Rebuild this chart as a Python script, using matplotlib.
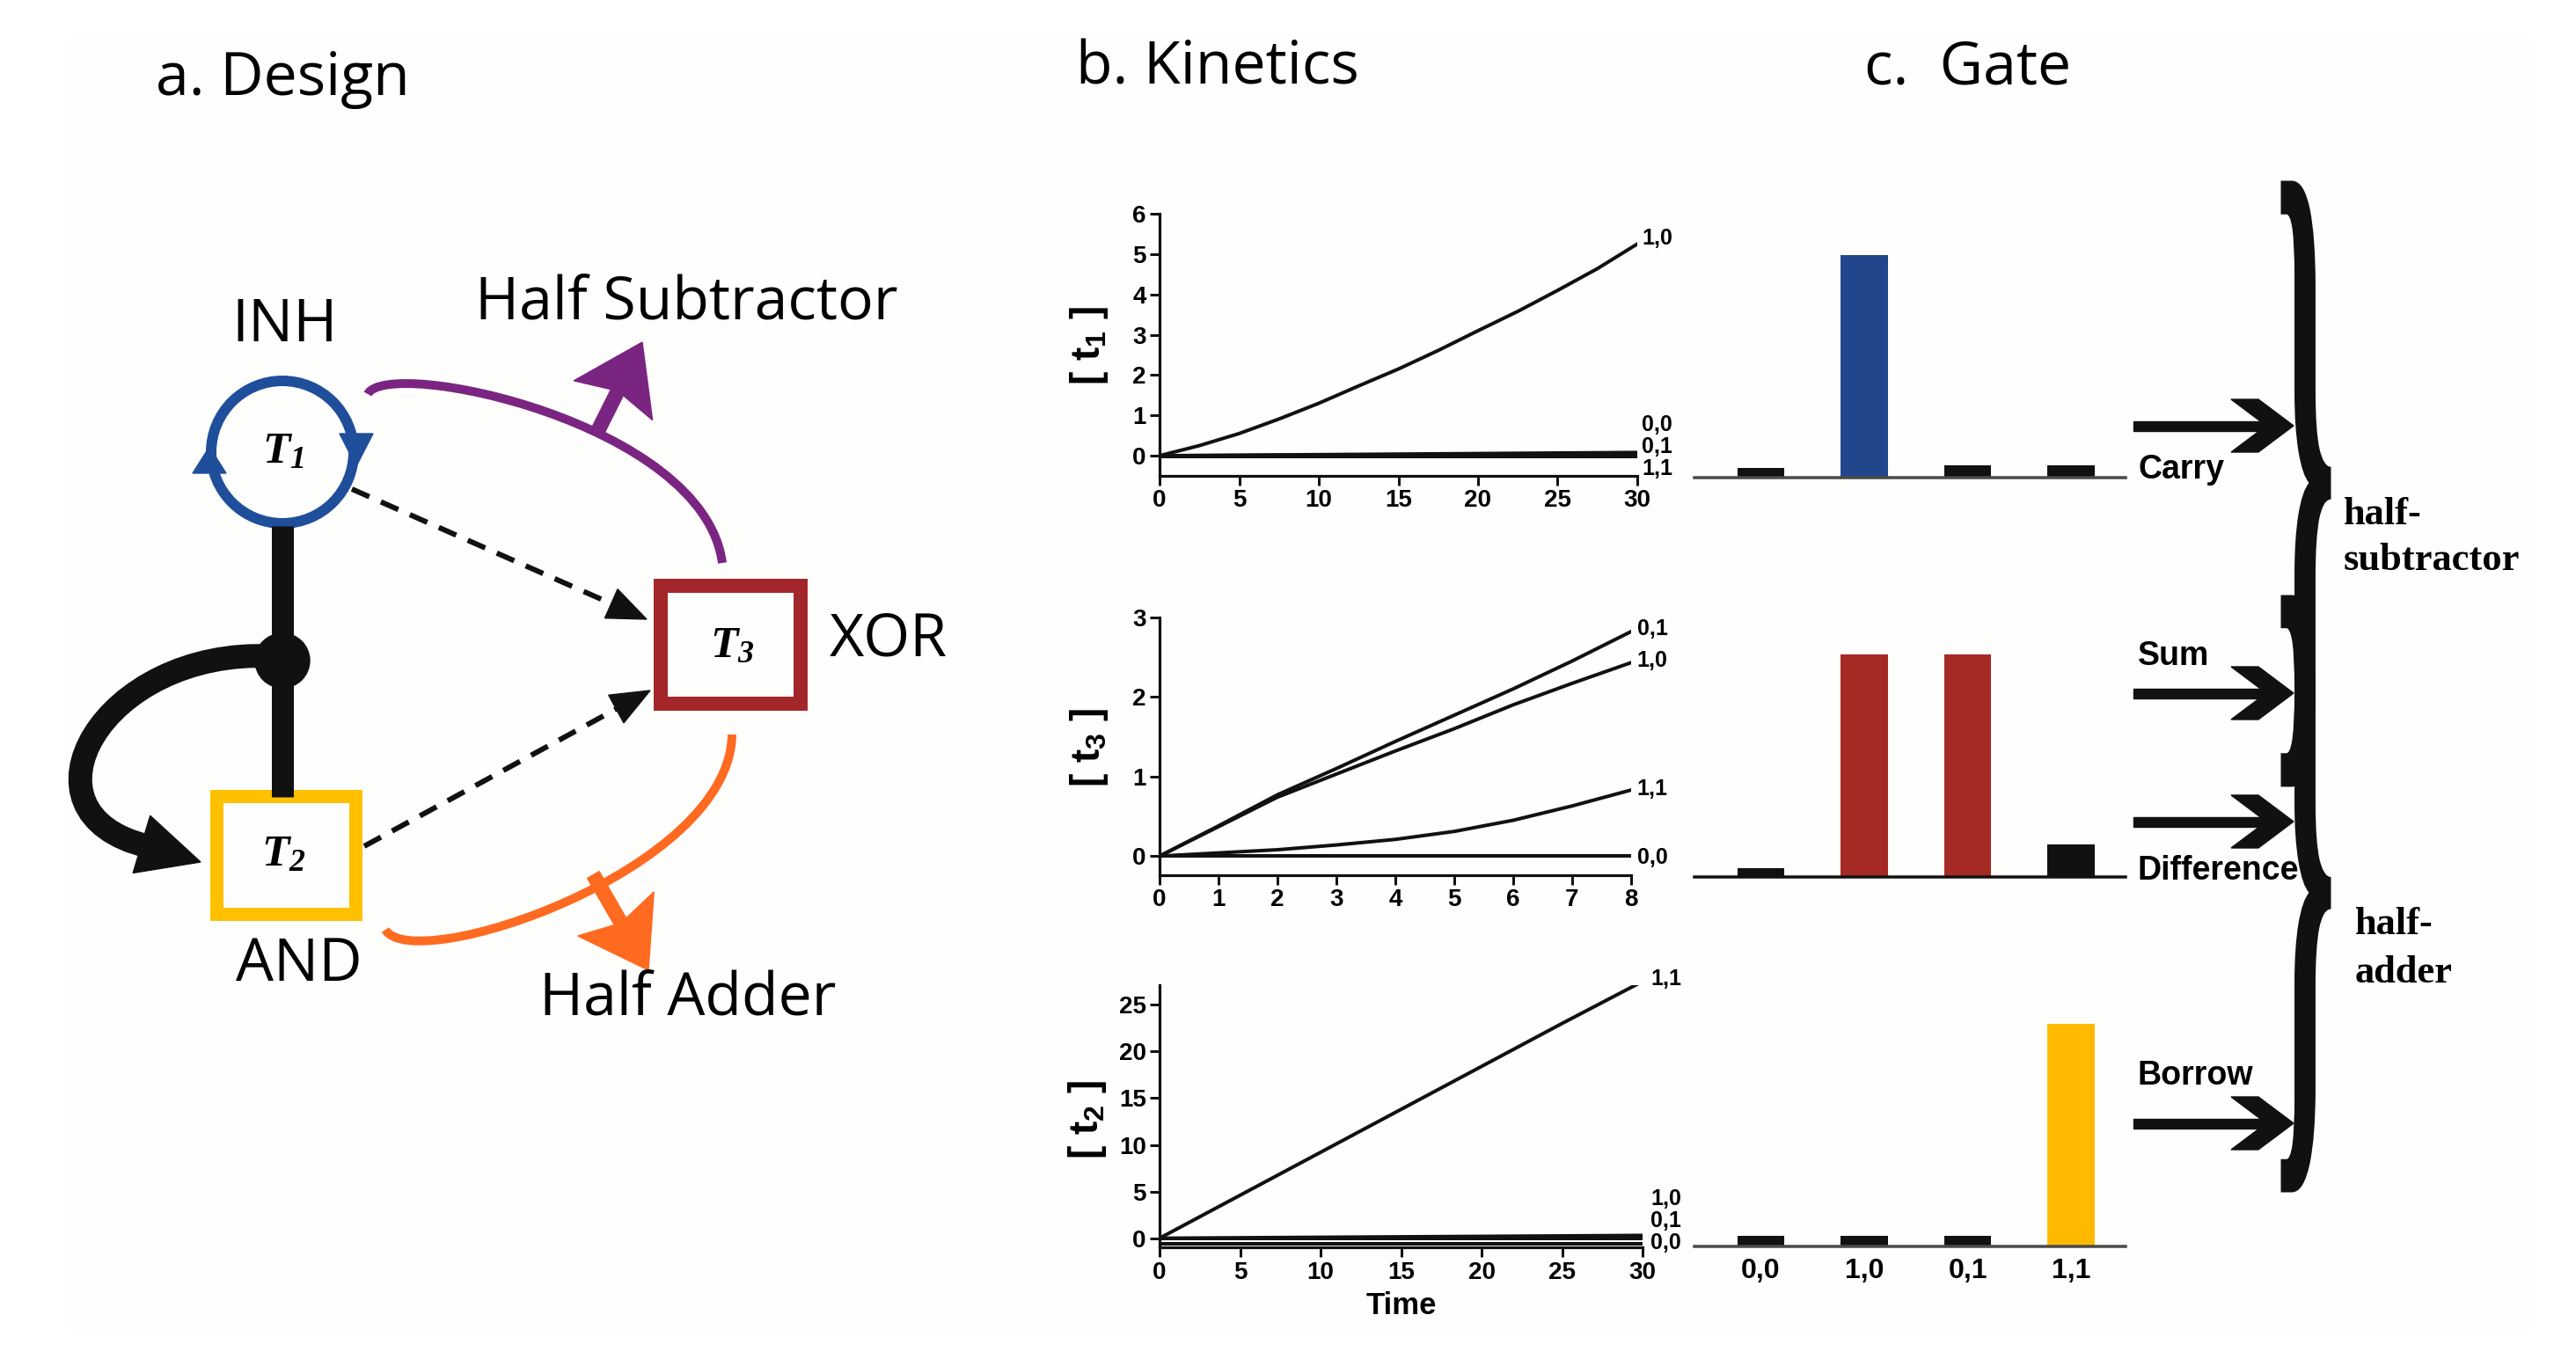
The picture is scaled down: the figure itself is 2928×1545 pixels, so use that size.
import numpy as np
import matplotlib.pyplot as plt
from matplotlib.path import Path
from matplotlib.patches import PathPatch, Circle, Rectangle, Polygon
from matplotlib.textpath import TextPath
from matplotlib.font_manager import FontProperties
from matplotlib.transforms import Affine2D

plt.rcParams['mathtext.default'] = 'regular'

# ---- data ----
# b. Kinetics, top panel: [t1]
time_t1 = [0, 2.5, 5, 7.5, 10, 12.5, 15, 17.5, 20, 22.5, 25, 27.5, 30]
t1_10 = [0, 0.25, 0.55, 0.91, 1.30, 1.73, 2.15, 2.61, 3.10, 3.58, 4.10, 4.64, 5.25]
time_flat = [0, 30]
t1_00 = [0, 0.08]
t1_01 = [0, 0.04]
t1_11 = [-0.02, -0.02]

# middle panel: [t3]
time_t3 = [0, 1, 2, 3, 4, 5, 6, 7, 8]
t3_01 = [0, 0.38, 0.77, 1.10, 1.44, 1.77, 2.10, 2.45, 2.82]
t3_10 = [0, 0.37, 0.74, 1.03, 1.32, 1.60, 1.90, 2.17, 2.43]
t3_11 = [0, 0.04, 0.08, 0.14, 0.21, 0.31, 0.45, 0.63, 0.83]
t3_00 = [0, 0, 0, 0, 0, 0, 0, 0, 0]

# bottom panel: [t2]
time_t2 = [0, 5, 10, 15, 20, 25, 30]
t2_11 = [0, 4.6, 9.2, 13.8, 18.4, 23.0, 27.5]
t2_10 = [0, 0.3]
t2_01 = [0, 0.0]
t2_00 = [-0.6, -0.6]

# c. Gate
gate_inputs = ['0,0', '1,0', '0,1', '1,1']
carry = [0.22, 5.0, 0.27, 0.27]
sum_diff = [0.10, 2.5, 2.5, 0.37]
borrow = [1.1, 1.1, 1.1, 23.0]

W, H = 2928, 1545
px = 0.72  # points per pixel at dpi 100
INK = '#111111'
BLUE = '#1f4e9b'
PURPLE = '#7b2583'
ORANGE = '#ff6a21'
RED = '#a3272a'
AMBER = '#ffc000'
SANS = ['Open Sans', 'DejaVu Sans']
NARROW = ['Liberation Sans Narrow', 'Liberation Sans', 'DejaVu Sans']
SERIF = ['Liberation Serif', 'DejaVu Serif']

fig = plt.figure(figsize=(W / 100, H / 100), dpi=100)
ov = fig.add_axes([0, 0, 1, 1])
ov.set_xlim(0, W)
ov.set_ylim(H, 0)
ov.axis('off')
ov.add_patch(Rectangle((77, 43), 2800, 1470, color='#fefefd', zorder=0))


def box(x0, y0, x1, y1):
    return [x0 / W, 1 - y1 / H, (x1 - x0) / W, (y1 - y0) / H]


def head(tip, frm, length, width, notch=0, **kw):
    tip = np.array(tip, float)
    d = tip - np.array(frm, float)
    d /= np.hypot(*d)
    p = np.array([-d[1], d[0]])
    base = tip - d * length
    pts = [tip, base + p * width / 2, base + d * notch, base - p * width / 2]
    ov.add_patch(Polygon(pts, closed=True, **kw))
    return base + d * notch


# ---- titles ----
ov.text(177, 90, 'a. Design', family=SANS, fontsize=49, va='center')
ov.text(1223, 78, 'b. Kinetics', family=SANS, fontsize=49, va='center')
ov.text(2119, 78, 'c.  Gate', family=SANS, fontsize=49, va='center')

# ---- a. Design ----
ov.add_patch(Circle((321, 514), 81, fill=False, ec=BLUE, lw=12 * px))
ov.add_patch(Polygon([(238, 508), (219, 538), (257, 538)], color=BLUE))
ov.add_patch(Polygon([(405, 530), (386, 493), (424, 493)], color=BLUE))
ov.plot([321, 321], [598, 906], color=INK, lw=25 * px, solid_capstyle='butt')
ov.add_patch(Circle((321, 751), 31, color=INK))
loop = Path([(310, 746), (115, 736), (10, 925), (168, 962)],
            [Path.MOVETO, Path.CURVE4, Path.CURVE4, Path.CURVE4])
ov.add_patch(PathPatch(loop, fc='none', ec=INK, lw=27 * px, capstyle='butt'))
head((228, 980), (168, 962), 70, 68, color=INK)

ov.add_patch(Rectangle((246, 905), 158, 134, fill=False, ec=AMBER, lw=15 * px, joinstyle='miter'))
ov.add_patch(Rectangle((751, 666), 159, 134, fill=False, ec=RED, lw=16 * px, joinstyle='miter'))

tfont = dict(family=SERIF, weight='bold', style='italic', fontsize=37, ha='center', va='center')
ov.text(322, 514, '$T_1$', **tfont)
ov.text(322, 972, '$T_2$', **tfont)
ov.text(832, 735, '$T_3$', **tfont)

lab = dict(family=SANS, fontsize=49, ha='center', va='center')
ov.text(324, 370, 'INH', **lab)
ov.text(340, 1097, 'AND', **lab)
ov.text(1010, 728, 'XOR', **lab)
ov.text(780, 345, 'Half Subtractor', **lab)
ov.text(782, 1136, 'Half Adder', **lab)

# dashed inputs into T3
for start, tip in [((400, 556), (735, 704)), ((414, 962), (739, 785))]:
    b = head(tip, start, 44, 36, color=INK)
    ov.plot([start[0], b[0]], [start[1], b[1]], color=INK, lw=6 * px,
            ls=(0, (3.6, 2.4)), solid_capstyle='butt')

# output arcs
arc_hs = Path([(418, 448), (440, 405), (800, 480), (821, 640)],
              [Path.MOVETO, Path.CURVE4, Path.CURVE4, Path.CURVE4])
ov.add_patch(PathPatch(arc_hs, fc='none', ec=PURPLE, lw=10 * px))
b = head((730, 389), (677, 495), 74, 100, notch=12, color=PURPLE)
ov.plot([677, b[0]], [495, b[1]], color=PURPLE, lw=17 * px, solid_capstyle='butt')

arc_ha = Path([(832, 835), (830, 990), (470, 1110), (438, 1057)],
              [Path.MOVETO, Path.CURVE4, Path.CURVE4, Path.CURVE4])
ov.add_patch(PathPatch(arc_ha, fc='none', ec=ORANGE, lw=10 * px))
b = head((737, 1103), (674, 994), 74, 100, notch=12, color=ORANGE)
ov.plot([674, b[0]], [994, b[1]], color=ORANGE, lw=17 * px, solid_capstyle='butt')

# ---- b. Kinetics ----
tick_font = dict(family=NARROW, weight='bold', size=20)


def kin_axes(rect, xlim, ylim, xticks, yticks):
    ax = fig.add_axes(rect)
    ax.set_xlim(*xlim)
    ax.set_ylim(*ylim)
    ax.set_xticks(xticks)
    ax.set_yticks(yticks)
    for s in ['top', 'right']:
        ax.spines[s].set_visible(False)
    for s in ['left', 'bottom']:
        ax.spines[s].set_linewidth(3.2 * px)
        ax.spines[s].set_color(INK)
    ax.tick_params(direction='out', length=8, width=3 * px, color=INK, pad=3)
    for lb in ax.get_xticklabels() + ax.get_yticklabels():
        lb.set_fontproperties(FontProperties(**tick_font))
    ax.patch.set_alpha(0)
    return ax


def curve_labels(ax, x, items):
    for txt, y in items:
        ax.text(x, y, txt, ha='left', va='center', clip_on=False,
                family=NARROW, weight='bold', fontsize=18)


lw_k = 4 * px
ax1 = kin_axes(box(1318, 243, 1861, 541), (0, 30), (-0.5, 6), range(0, 31, 5), range(0, 7))
ax1.plot(time_t1, t1_10, color=INK, lw=lw_k)
for ys in (t1_00, t1_01, t1_11):
    ax1.plot(time_flat, ys, color=INK, lw=lw_k)
curve_labels(ax1, 30.3, [('1,0', 5.4), ('0,0', 0.76), ('0,1', 0.22), ('1,1', -0.33)])

ax3 = kin_axes(box(1318, 701.7, 1854, 995), (0, 8), (-0.24, 3), range(0, 9), range(0, 4))
for ys in (t3_01, t3_10, t3_11, t3_00):
    ax3.plot(time_t3, ys, color=INK, lw=lw_k)
curve_labels(ax3, 8.1, [('0,1', 2.85), ('1,0', 2.45), ('1,1', 0.84), ('0,0', -0.02)])

ax2 = kin_axes(box(1318, 1120, 1867, 1418.3), (0, 30), (-1, 27.1), range(0, 31, 5), range(0, 26, 5))
ax2.plot(time_t2, t2_11, color=INK, lw=lw_k)
for ys in (t2_10, t2_01, t2_00):
    ax2.plot(time_flat, ys, color=INK, lw=lw_k)
curve_labels(ax2, 30.5, [('1,1', 27.8), ('1,0', 4.2), ('0,1', 1.85), ('0,0', -0.5)])
ax2.set_xlabel('Time', family=NARROW, weight='bold', fontsize=25, labelpad=6)

ylab = dict(family=NARROW, weight='bold', fontsize=33, ha='center', va='center', rotation=90)
ov.text(1238, 393, '[ t$_1$ ]', **ylab)
ov.text(1238, 850, '[ t$_3$ ]', **ylab)
ov.text(1236, 1273, '[ t$_2$ ]', **ylab)

# ---- c. Gate ----
gate_rows = [
    (543, carry, [INK, '#21468c', INK, INK], '#4a4a4a'),
    (997, sum_diff, [INK, '#a52a23', '#a52a23', INK], INK),
    (1416.6, borrow, [INK, INK, INK, '#ffba00'], '#4a4a4a'),
]
ax_h = 290
bar_px = 253
for i, (base_y, vals, cols, basecol) in enumerate(gate_rows):
    ax = fig.add_axes(box(1926, base_y - ax_h, 2416, base_y))
    ax.bar(range(4), vals, width=0.456, color=cols)
    ax.set_xlim(-0.642, 3.525)
    ax.set_ylim(0, max(vals) * ax_h / bar_px)
    for s in ['top', 'right', 'left']:
        ax.spines[s].set_visible(False)
    ax.spines['bottom'].set_linewidth(3.5 * px)
    ax.spines['bottom'].set_color(basecol)
    ax.set_yticks([])
    ax.patch.set_alpha(0)
    if i == 2:
        ax.set_xticks(range(4), gate_inputs)
        ax.tick_params(axis='x', length=0, pad=10)
        for lb in ax.get_xticklabels():
            lb.set_fontproperties(FontProperties(family=NARROW, weight='bold', size=23))
    else:
        ax.set_xticks([])

glab = dict(family=NARROW, weight='bold', fontsize=27, ha='left', va='center')
ov.text(2430, 534, 'Carry', **glab)
ov.text(2430, 746, 'Sum', **glab)
ov.text(2430, 990, 'Difference', **glab)
ov.text(2430, 1223, 'Borrow', **glab)

for y in (484, 788, 934, 1277):
    xt = 2607
    ov.add_patch(Rectangle((2425, y - 5.5), xt - 31 - 2425 + 4, 11, color=INK))
    ov.add_patch(Polygon([(xt - 71, y - 30), (xt - 40, y - 30), (xt, y),
                          (xt - 40, y + 30), (xt - 71, y + 30), (xt - 31, y)],
                         closed=True, color=INK))

# braces
brace = TextPath((0, 0), '}', size=100, prop=FontProperties(family=SERIF, weight='bold'))
ext = brace.get_extents()
for top, bottom in [(207, 893), (678, 1354)]:
    tr = (Affine2D().translate(-ext.x0, -ext.y1)
          .scale(54 / ext.width, -(bottom - top) / ext.height)
          .translate(2594, top))
    ov.add_patch(PathPatch(tr.transform_path(brace), fc=INK, ec=INK, lw=3 * px))

blab = dict(family=SERIF, weight='bold', fontsize=32, ha='left', va='baseline')
ov.text(2664, 596, 'half-', **blab)
ov.text(2664, 648, 'subtractor', **blab)
ov.text(2677, 1062, 'half-', **blab)
ov.text(2677, 1117, 'adder', **blab)

fig.savefig('out.png', dpi=100, facecolor='white')
